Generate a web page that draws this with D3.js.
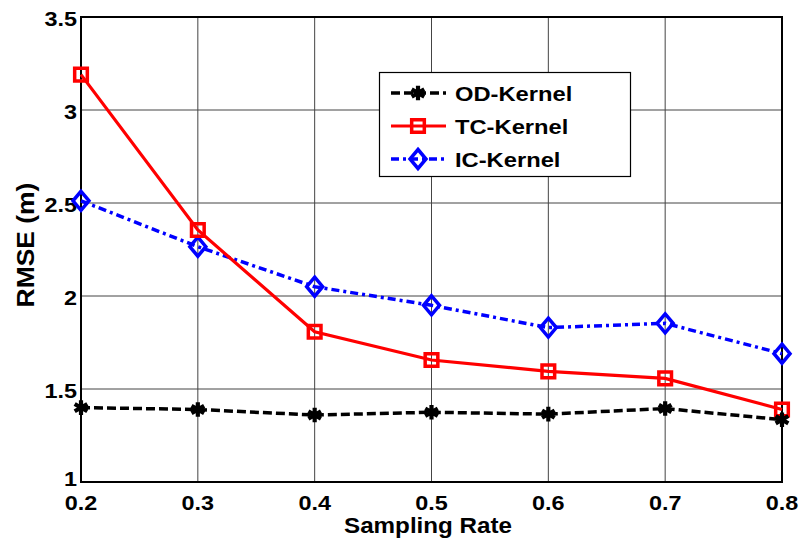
<!DOCTYPE html>
<html>
<head>
<meta charset="utf-8">
<script src="https://cdn.jsdelivr.net/npm/d3@7"></script>
<style>
  body { margin: 0; background: #fff; }
  text { font-family: 'Liberation Sans', Arial, sans-serif; font-weight: bold; fill: #000; }
</style>
</head>
<body>
<div id="chart"></div>
<script>
// values
const samplingRates = [0.2, 0.3, 0.4, 0.5, 0.6, 0.7, 0.8];
const odKernel = [1.40, 1.39, 1.36, 1.375, 1.365, 1.395, 1.335];
const tcKernel = [3.19, 2.355, 1.808, 1.656, 1.595, 1.557, 1.39];
const icKernel = [2.512, 2.265, 2.05, 1.95, 1.83, 1.853, 1.69];
const xTicks = [0.2, 0.3, 0.4, 0.5, 0.6, 0.7, 0.8];
const yTicks = [1, 1.5, 2, 2.5, 3, 3.5];
const seriesNames = ['OD-Kernel', 'TC-Kernel', 'IC-Kernel'];

const width = 800;
const height = 540;
const margin = { top: 17, right: 18, bottom: 58, left: 81 };

const svg = d3.select('#chart')
  .append('svg')
  .attr('width', width)
  .attr('height', height);

const x = d3.scaleLinear().domain([0.2, 0.8]).range([margin.left, width - margin.right]);
const y = d3.scaleLinear().domain([1, 3.5]).range([height - margin.bottom, margin.top]);

// text in the figure is a bit wider than Arial, so stretch it horizontally
function label(sel, tx, ty, str, size, sx, anchor, rot) {
  return sel.append('text')
    .attr('transform', 'translate(' + tx + ',' + ty + ')' + (rot ? ' rotate(' + rot + ')' : '') + ' scale(' + sx + ',1)')
    .attr('text-anchor', anchor)
    .style('font-size', size + 'px')
    .text(str);
}

// grid
const grid = svg.append('g');
grid.selectAll('.vg')
  .data(xTicks)
  .enter().append('line')
  .attr('x1', d => x(d)).attr('x2', d => x(d))
  .attr('y1', y(1)).attr('y2', y(3.5))
  .attr('stroke', '#444').attr('stroke-width', 1);
grid.selectAll('.hg')
  .data(yTicks)
  .enter().append('line')
  .attr('x1', x(0.2)).attr('x2', x(0.8))
  .attr('y1', d => y(d)).attr('y2', d => y(d))
  .attr('stroke', '#444').attr('stroke-width', 1);

// axes box
svg.append('rect')
  .attr('x', x(0.2)).attr('y', y(3.5))
  .attr('width', x(0.8) - x(0.2))
  .attr('height', y(1) - y(3.5))
  .attr('fill', 'none')
  .attr('stroke', '#000')
  .attr('stroke-width', 2);

// tick labels ("1" is nudged up a little so it does not run into "0.2")
xTicks.forEach(d => label(svg, x(d), 510, d.toFixed(1), 20, 1.17, 'middle'));
yTicks.forEach(d => label(svg, 77, y(d) + (d === 1 ? 4 : 9), String(d), 20, 1.17, 'end'));

label(svg, 428, 533, 'Sampling Rate', 22, 1.1, 'middle');
label(svg, 34, 245, 'RMSE (m)', 23, 1.15, 'middle', -90);

const square = d3.symbol().type(d3.symbolSquare).size(160);
const star = d3.symbol().type(d3.symbolAsterisk).size(150);
const diamond = 'M0,-9.5L8,0L0,9.5L-8,0Z';

const series = [
  { name: seriesNames[0], values: odKernel, color: '#000', width: 3.5, dash: '9,4', marker: 'star' },
  { name: seriesNames[1], values: tcKernel, color: '#ff0000', width: 3.2, dash: null, marker: 'square' },
  { name: seriesNames[2], values: icKernel, color: '#0000ff', width: 3.5, dash: '8,4,3,4', marker: 'diamond' }
];

function drawMarker(g, type, color, cx, cy) {
  const p = g.append('path')
    .attr('transform', 'translate(' + cx + ',' + cy + ')')
    .attr('fill', 'none')
    .attr('stroke', color)
    .attr('stroke-width', 3.5);
  if (type === 'star') {
    p.attr('d', star()).attr('stroke-width', 4.2);
    g.append('circle').attr('cx', cx).attr('cy', cy).attr('r', 3.5).attr('fill', color);
  } else if (type === 'square') {
    p.attr('d', square());
  } else {
    p.attr('d', diamond);
  }
}

const line = d3.line()
  .x((d, i) => x(samplingRates[i]))
  .y(d => y(d));

// draw in reverse so the black curve sits on top like in the figure
series.slice().reverse().forEach(s => {
  const g = svg.append('g');
  g.append('path')
    .datum(s.values)
    .attr('d', line)
    .attr('fill', 'none')
    .attr('stroke', s.color)
    .attr('stroke-width', s.width)
    .attr('stroke-dasharray', s.dash);
  s.values.forEach((v, i) => drawMarker(g, s.marker, s.color, x(samplingRates[i]), y(v)));
});

// legend
const legend = svg.append('g');
legend.append('rect')
  .attr('x', 379.5).attr('y', 72.5)
  .attr('width', 251).attr('height', 104)
  .attr('fill', '#fff')
  .attr('stroke', '#000')
  .attr('stroke-width', 1.2);

series.forEach((s, i) => {
  const cy = 93 + i * 33;
  legend.append('line')
    .attr('x1', 391).attr('x2', 446)
    .attr('y1', cy).attr('y2', cy)
    .attr('stroke', s.color)
    .attr('stroke-width', s.width)
    .attr('stroke-dasharray', s.dash);
  drawMarker(legend, s.marker, s.color, 418, cy);
  label(legend, 455, cy + 7.5, s.name, 21, 1.13, 'start');
});
</script>
</body>
</html>
